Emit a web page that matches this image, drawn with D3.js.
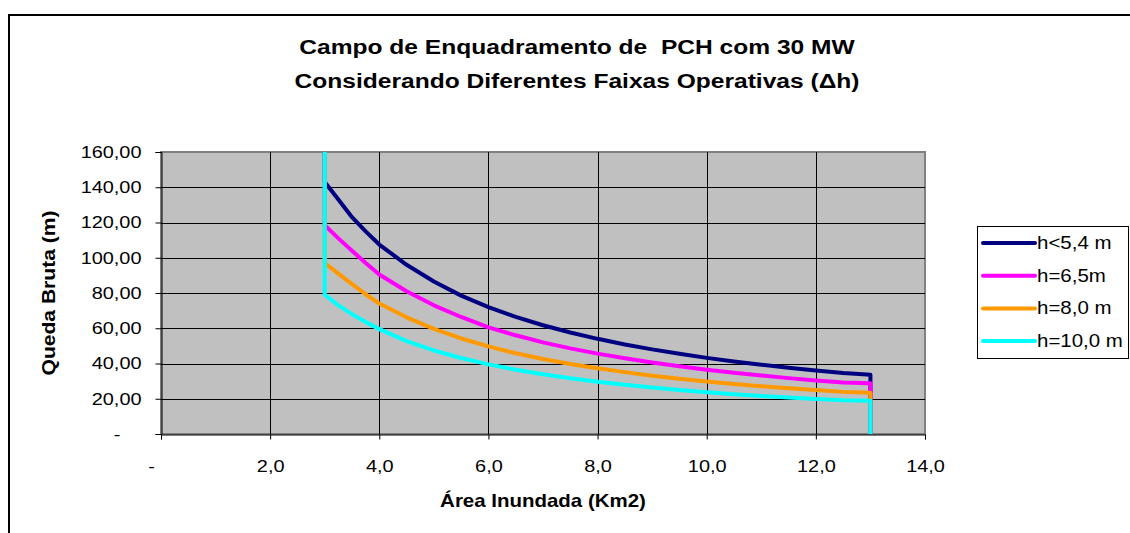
<!DOCTYPE html>
<html>
<head>
<meta charset="utf-8">
<script src="https://cdn.jsdelivr.net/npm/d3@7/dist/d3.min.js"></script>
<style>
  html, body { margin: 0; padding: 0; background: #fff; }
  svg { display: block; font-family: "Liberation Sans", Arial, sans-serif; }
  text { white-space: pre; }
</style>
</head>
<body>
<svg id="chart" width="1130" height="533"></svg>
<script>
// ---- data ----
const titleLines = ["Campo de Enquadramento de  PCH com 30 MW", "Considerando Diferentes Faixas Operativas (\u0394h)"];
const xTitle = "\u00c1rea Inundada (Km2)";
const yTitle = "Queda Bruta (m)";
const xTicks = [0, 2, 4, 6, 8, 10, 12, 14];
const xTickLabels = ["-", "2,0", "4,0", "6,0", "8,0", "10,0", "12,0", "14,0"];
const yTicks = [0, 20, 40, 60, 80, 100, 120, 140, 160];
const yTickLabels = ["-", "20,00", "40,00", "60,00", "80,00", "100,00", "120,00", "140,00", "160,00"];

const seriesNames = ["h<5,4 m", "h=6,5m", "h=8,0 m", "h=10,0 m"];
const seriesColors = ["#000080", "#FF00FF", "#FF9900", "#00FFFF"];

const area = [3, 3, 3.25, 3.5, 3.75, 4, 4.5, 5, 5.5, 6, 6.5, 7, 7.5, 8, 8.5, 9, 9.5, 10, 10.5, 11, 11.5, 12, 12.5, 13, 13];
const h54  = [160, 143, 133, 123, 115, 107.5, 96, 86.5, 78.5, 72, 66.5, 61.7, 57.6, 54, 50.8, 48, 45.5, 43.2, 41.1, 39.3, 37.6, 36, 34.6, 33.6, 0];
const h65  = [160, 118.5, 111, 104, 97, 90.5, 81, 73, 66.4, 60.5, 56, 52, 48.6, 45.6, 43, 40.6, 38.4, 36.5, 34.8, 33.2, 31.7, 30.4, 29.2, 28.8, 0];
const h80  = [160, 97, 91, 85, 79.3, 74, 66.2, 59.6, 54.2, 49.7, 45.8, 42.6, 39.7, 37.3, 35.1, 33.1, 31.4, 29.8, 28.4, 27.1, 25.9, 24.9, 23.9, 23.4, 0];
const h100 = [160, 79, 73, 68, 63.5, 59.5, 52.7, 47.4, 43.1, 39.5, 36.5, 33.9, 31.6, 29.7, 27.9, 26.4, 25, 23.7, 22.6, 21.6, 20.7, 19.8, 19.1, 18.8, 0];
const seriesValues = [h54, h65, h80, h100];

// ---- layout ----
const SX = 1.17; // horizontal stretch of the original text rendering
function stretch(sel) {
  sel.each(function () {
    const t = d3.select(this);
    const tx = +t.attr("x") || 0, ty = +t.attr("y") || 0;
    const prev = t.attr("transform") || "";
    t.attr("x", 0).attr("y", 0)
     .attr("transform", `${prev} translate(${tx},${ty}) scale(${SX},1)`);
  });
}

const svg = d3.select("#chart");
const plot = { left: 161, right: 925, top: 152, bottom: 434 };

// outer chart border
svg.append("path")
  .attr("d", `M9,540 L9,15 L1140,15`)
  .attr("fill", "none").attr("stroke", "#000").attr("stroke-width", 2);

const x = d3.scaleLinear().domain([0, 14]).range([plot.left, plot.right]);
const y = d3.scaleLinear().domain([0, 160]).range([plot.bottom, plot.top]);

// plot background
svg.append("rect")
  .attr("x", plot.left).attr("y", plot.top)
  .attr("width", plot.right - plot.left).attr("height", plot.bottom - plot.top)
  .attr("fill", "#C0C0C0").attr("stroke", "#808080").attr("stroke-width", 2);

// gridlines
svg.append("g")
  .selectAll("line").data(yTicks.slice(1, -1)).join("line")
  .attr("x1", plot.left).attr("x2", plot.right)
  .attr("y1", d => Math.round(y(d)) + 0.5).attr("y2", d => Math.round(y(d)) + 0.5)
  .attr("stroke", "#000").attr("stroke-width", 1);
svg.append("g")
  .selectAll("line").data(xTicks.slice(1, -1)).join("line")
  .attr("y1", plot.top).attr("y2", plot.bottom)
  .attr("x1", d => Math.round(x(d)) + 0.5).attr("x2", d => Math.round(x(d)) + 0.5)
  .attr("stroke", "#000").attr("stroke-width", 1);

// axes
const yAxis = d3.axisLeft(y).tickValues(yTicks).tickFormat((d, i) => yTickLabels[i]).tickSize(6).tickPadding(14);
const gy = svg.append("g").attr("transform", `translate(${plot.left + 0.5},0)`).call(yAxis);
gy.attr("font-size", null).attr("font-family", null);
gy.selectAll("text").attr("font-size", 17).attr("fill", "#000");
gy.selectAll("line").attr("stroke", "#000");
gy.select(".domain").attr("stroke", "#000");
gy.selectAll(".tick").filter(d => d === 0).select("text").attr("x", -41);
stretch(gy.selectAll("text"));

const xAxis = d3.axisBottom(x).tickValues(xTicks).tickFormat((d, i) => xTickLabels[i]).tickSize(5).tickPadding(20);
const gx = svg.append("g").attr("transform", `translate(0,${plot.bottom + 0.5})`).call(xAxis);
gx.attr("font-size", null).attr("font-family", null);
gx.selectAll("text").attr("font-size", 17).attr("fill", "#000");
gx.selectAll("line").attr("stroke", "#000");
gx.select(".domain").attr("stroke", "#000");
gx.selectAll(".tick").filter(d => d === 0).select("text").attr("x", -10);
stretch(gx.selectAll("text"));

// series
const line = d3.line().x(d => x(d[0])).y(d => y(d[1]));
seriesValues.forEach((vals, si) => {
  const pts = area.map((a, i) => [a, vals[i]]);
  svg.append("path").datum(pts)
    .attr("d", line)
    .attr("fill", "none")
    .attr("stroke", seriesColors[si])
    .attr("stroke-width", 4)
    .attr("stroke-linejoin", "round");
});

// titles
titleLines.forEach((t, i) => {
  svg.append("text").attr("x", 577).attr("y", 54 + i * 34).attr("text-anchor", "middle")
    .attr("font-size", 21).attr("font-weight", "bold").attr("fill", "#000").text(t)
    .call(stretch);
});

const xt = svg.append("text").attr("x", 543).attr("y", 507).attr("text-anchor", "middle")
  .attr("font-size", 17.5).attr("font-weight", "bold").text(xTitle);
stretch(xt);

svg.append("g").attr("transform", `translate(55,293) rotate(-90)`)
  .append("text").attr("text-anchor", "middle")
  .attr("font-size", 18).attr("font-weight", "bold").text(yTitle)
  .call(stretch);

// legend
const lg = svg.append("g");
lg.append("rect").attr("x", 977.5).attr("y", 226.5).attr("width", 151).attr("height", 132)
  .attr("fill", "#fff").attr("stroke", "#000").attr("stroke-width", 1);
seriesNames.forEach((name, i) => {
  const cy = 243 + i * 32.7;
  lg.append("line").attr("x1", 983).attr("x2", 1035).attr("y1", cy).attr("y2", cy)
    .attr("stroke", seriesColors[i]).attr("stroke-width", 4).attr("stroke-linecap", "round");
  lg.append("text").attr("x", 1037).attr("y", cy + 6).attr("font-size", 17.5).text(name).call(stretch);
});
</script>
</body>
</html>
